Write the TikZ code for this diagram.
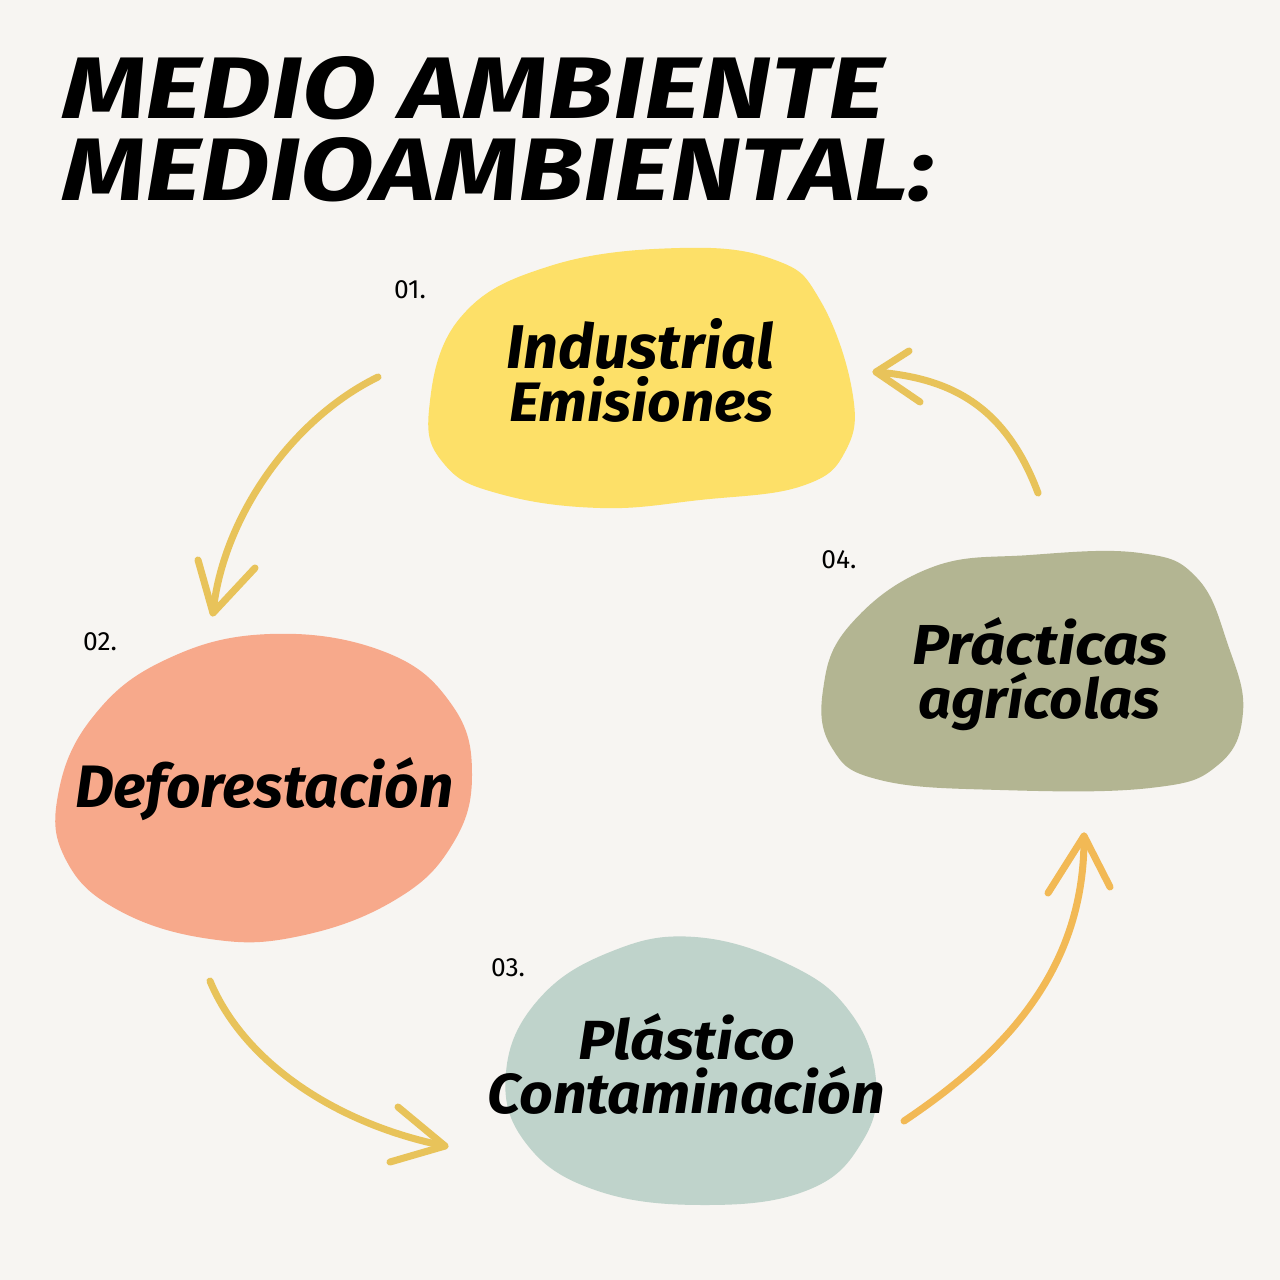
\documentclass[tikz,border=0pt]{standalone}
\usepackage{fontspec}
\setmainfont{Fira Sans}
\newfontfamily\hand{Fira Sans}
\newfontfamily\numfont{Fira Sans}
\definecolor{bg}{HTML}{F7F5F2}
\definecolor{yel}{HTML}{FDE068}
\definecolor{sal}{HTML}{F7A98B}
\definecolor{sage}{HTML}{B3B592}
\definecolor{teal}{HTML}{BFD3CB}
\definecolor{arr}{HTML}{E8C35A}
\definecolor{arrb}{HTML}{F2B955}
\newcommand{\fitline}[3]{\resizebox{#1}{#2}{\hand\bfseries\itshape #3}}
\tikzset{
  blob/.style={line width=0pt},
  lbl/.style={anchor=base west, inner sep=0pt, outer sep=0pt},
  numlbl/.style={inner sep=0pt, font=\numfont\fontsize{7.5}{9}\selectfont},
  arrow/.style={draw=arr, line width=2pt, line cap=round, line join=round},
}
\begin{document}
\begin{tikzpicture}[x=0.01cm,y=-0.01cm]
\useasboundingbox (0,0) rectangle (1280,1280);
\fill[bg] (0,0) rectangle (1280,1280);

% title
\node[lbl] (t1) at (62,119) {\resizebox{8.22cm}{0.62cm}{\hand\bfseries\itshape MEDIO AMBIENTE}};
\node[lbl] (t2) at (62,201) {\resizebox{8.72cm}{0.63cm}{\hand\bfseries\itshape MEDIOAMBIENTAL:}};

% blobs
\fill[yel] plot[smooth cycle, tension=0.7] coordinates {(429,410) (460,318) (550,266) (680,248) (775,260) (820,300) (852,390) (846,450) (802,486) (700,500) (600,508) (500,494) (445,465)};
\fill[sal] plot[smooth cycle, tension=0.7] coordinates {(270,634) (385,652) (452,705) (472,775) (452,845) (395,900) (300,936) (210,939) (118,910) (66,860) (58,795) (92,718) (165,660)};
\fill[sage] plot[smooth cycle, tension=0.7] coordinates {(930,568) (1030,555) (1140,553) (1197,578) (1228,645) (1243,712) (1218,765) (1150,788) (1000,790) (880,780) (832,748) (823,690) (850,625)};
\fill[teal] plot[smooth cycle, tension=0.7] coordinates {(695,937) (790,965) (850,1012) (876,1080) (862,1142) (808,1190) (705,1205) (595,1190) (525,1142) (506,1072) (538,1000) (610,952)};

% blob texts
\node[lbl] (i1) at (506,369) {\fitline{2.68cm}{0.50cm}{Industrial}};
\node[lbl] (i2) at (509,422) {\fitline{2.64cm}{0.45cm}{Emisiones}};
\node[lbl] (d1) at (75,807) {\fitline{3.78cm}{0.50cm}{Deforestación}};
\node[lbl] (p1) at (578,1059) {\fitline{2.17cm}{0.46cm}{Plástico}};
\node[lbl] (p2) at (487,1113) {\fitline{3.98cm}{0.47cm}{Contaminación}};
\node[lbl] (a1) at (912,665) {\fitline{2.56cm}{0.47cm}{Prácticas}};
\node[lbl] (a2) at (918,718) {\fitline{2.42cm}{0.46cm}{agrícolas}};

% numbers
\node[numlbl] (n1) at (410,290) {01.};
\node[numlbl] (n2) at (100,642) {02.};
\node[numlbl] (n3) at (508,968) {03.};
\node[numlbl] (n4) at (839,560) {04.};

% arrows
\coordinate (s1) at (378,377); \coordinate (e1) at (213,613);
\coordinate (h1a) at (198,560); \coordinate (h1b) at (255,568);
\draw[arrow] (s1) .. controls (290,420) and (222,520) .. (e1);
\draw[arrow] (h1a) -- (e1) -- (h1b);

\coordinate (s2) at (1038,493); \coordinate (e2) at (876,372);
\coordinate (h2a) at (909,351); \coordinate (h2b) at (920,402);
\draw[arrow] (s2) .. controls (1005,405) and (950,378) .. (e2);
\draw[arrow] (h2a) -- (e2) -- (h2b);

\coordinate (s3) at (210,981); \coordinate (e3) at (445,1146);
\coordinate (h3a) at (398,1107); \coordinate (h3b) at (390,1162);
\draw[arrow] (s3) .. controls (245,1065) and (340,1125) .. (e3);
\draw[arrow] (h3a) -- (e3) -- (h3b);

\coordinate (s4) at (904,1121); \coordinate (e4) at (1084,836);
\coordinate (h4a) at (1048,893); \coordinate (h4b) at (1110,887);
\draw[arrow, draw=arrb] (s4) .. controls (1010,1050) and (1085,965) .. (e4);
\draw[arrow, draw=arrb] (h4a) -- (e4) -- (h4b);
\end{tikzpicture}
\end{document}
